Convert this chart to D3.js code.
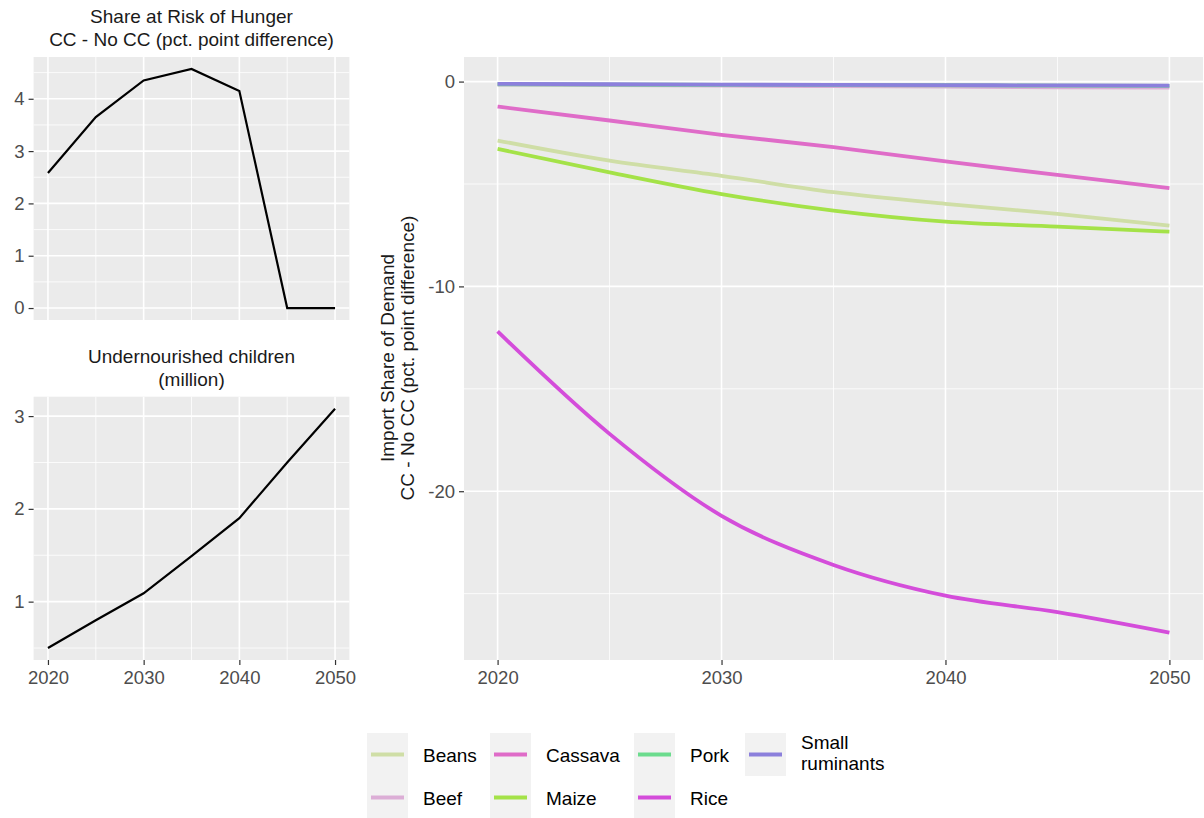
<!DOCTYPE html>
<html>
<head>
<meta charset="utf-8">
<script src="https://cdn.jsdelivr.net/npm/d3@7"></script>
<style>
  body { margin: 0; background: #fff; }
  text { font-family: "Liberation Sans", Arial, sans-serif; }
</style>
</head>
<body>
<script>
// data
var years = [2020, 2025, 2030, 2035, 2040, 2045, 2050];
var hungerShare = [2.58, 3.65, 4.35, 4.57, 4.15, 0, 0];
var childrenMillion = [0.5, 0.8, 1.09, 1.49, 1.9, 2.5, 3.08];

var crops = ["Beans", "Beef", "Cassava", "Maize", "Pork", "Rice", "Small ruminants"];
var cropColors = ["#cfdea6", "#dcaed6", "#df6cc8", "#a4e248", "#6cdc8e", "#d44dda", "#8c80dc"];
var beans = [-2.88, -3.86, -4.6, -5.4, -5.97, -6.46, -7.03];
var beef = [-0.15, -0.17, -0.2, -0.22, -0.25, -0.28, -0.3];
var cassava = [-1.22, -1.9, -2.6, -3.2, -3.9, -4.56, -5.2];
var maize = [-3.29, -4.43, -5.49, -6.3, -6.84, -7.08, -7.33];
var pork = [-0.13, -0.15, -0.16, -0.17, -0.18, -0.2, -0.21];
var rice = [-12.2, -17.2, -21.2, -23.6, -25.1, -25.9, -26.9];
var smallRuminants = [-0.11, -0.13, -0.15, -0.16, -0.17, -0.19, -0.2];
var cropValues = [beans, beef, cassava, maize, pork, rice, smallRuminants];

var w = 1204, h = 818;
var svg = d3.select("body").append("svg").attr("width", w).attr("height", h);
var tickFont = "18.5px", titleFont = "19px";

function panel(opt) {
  var g = svg.append("g");
  var x = d3.scaleLinear().domain(opt.xdom).range([opt.left, opt.right]);
  var y = d3.scaleLinear().domain(opt.ydom).range([opt.bottom, opt.top]);
  g.append("rect").attr("x", opt.left).attr("y", opt.top)
    .attr("width", opt.right - opt.left).attr("height", opt.bottom - opt.top)
    .attr("fill", "#ebebeb");
  // minor grid
  opt.yminor.forEach(function(v) {
    g.append("line").attr("x1", opt.left).attr("x2", opt.right)
      .attr("y1", y(v)).attr("y2", y(v)).attr("stroke", "#fff").attr("stroke-width", 0.8);
  });
  [2025, 2035, 2045].forEach(function(v) {
    g.append("line").attr("y1", opt.top).attr("y2", opt.bottom)
      .attr("x1", x(v)).attr("x2", x(v)).attr("stroke", "#fff").attr("stroke-width", 0.8);
  });
  // major grid
  opt.yticks.forEach(function(v) {
    g.append("line").attr("x1", opt.left).attr("x2", opt.right)
      .attr("y1", y(v)).attr("y2", y(v)).attr("stroke", "#fff").attr("stroke-width", 1.6);
  });
  [2020, 2030, 2040, 2050].forEach(function(v) {
    g.append("line").attr("y1", opt.top).attr("y2", opt.bottom)
      .attr("x1", x(v)).attr("x2", x(v)).attr("stroke", "#fff").attr("stroke-width", 1.6);
  });

  var yAxis = d3.axisLeft(y).tickValues(opt.yticks).tickSize(5).tickPadding(4)
    .tickFormat(function(d) { return String(d); });
  var ya = g.append("g").attr("transform", "translate(" + opt.left + ",0)").call(yAxis);
  ya.select(".domain").remove();
  ya.selectAll("line").attr("stroke", "#333").attr("stroke-width", 1.2);
  ya.selectAll("text").attr("font-size", tickFont).attr("fill", "#4d4d4d");

  if (opt.showX) {
    var xAxis = d3.axisBottom(x).tickValues([2020, 2030, 2040, 2050]).tickSize(5).tickPadding(6)
      .tickFormat(function(d) { return String(d); });
    var xa = g.append("g").attr("transform", "translate(0," + opt.bottom + ")").call(xAxis);
    xa.select(".domain").remove();
    xa.selectAll("line").attr("stroke", "#333").attr("stroke-width", 1.2);
    xa.selectAll("text").attr("font-size", tickFont).attr("fill", "#4d4d4d");
  }
  return {g: g, x: x, y: y};
}

// top-left: share at risk of hunger
var p1 = panel({left: 33.6, right: 349.4, top: 57, bottom: 320,
  xdom: [2018.5, 2051.5], ydom: [-0.2285, 4.7985],
  yticks: [0, 1, 2, 3, 4], yminor: [0.5, 1.5, 2.5, 3.5, 4.5], showX: false});
p1.g.append("path").datum(hungerShare)
  .attr("fill", "none").attr("stroke", "#000").attr("stroke-width", 2.2)
  .attr("d", d3.line().x(function(d, i) { return p1.x(years[i]); }).y(function(d) { return p1.y(d); }));
svg.append("text").attr("x", 191.5).attr("y", 23).attr("text-anchor", "middle")
  .attr("font-size", titleFont).attr("fill", "#1a1a1a").text("Share at Risk of Hunger");
svg.append("text").attr("x", 191.5).attr("y", 46).attr("text-anchor", "middle")
  .attr("font-size", titleFont).attr("fill", "#1a1a1a").text("CC - No CC (pct. point difference)");

// bottom-left: undernourished children
var p2 = panel({left: 33.6, right: 349.4, top: 396.7, bottom: 660,
  xdom: [2018.5, 2051.5], ydom: [0.371, 3.209],
  yticks: [1, 2, 3], yminor: [0.5, 1.5, 2.5], showX: true});
p2.g.append("path").datum(childrenMillion)
  .attr("fill", "none").attr("stroke", "#000").attr("stroke-width", 2.2)
  .attr("d", d3.line().x(function(d, i) { return p2.x(years[i]); }).y(function(d) { return p2.y(d); }));
svg.append("text").attr("x", 191.5).attr("y", 363).attr("text-anchor", "middle")
  .attr("font-size", titleFont).attr("fill", "#1a1a1a").text("Undernourished children");
svg.append("text").attr("x", 191.5).attr("y", 386).attr("text-anchor", "middle")
  .attr("font-size", titleFont).attr("fill", "#1a1a1a").text("(million)");

// right: import share of demand
var p3 = panel({left: 464, right: 1203, top: 57, bottom: 660,
  xdom: [2018.5, 2051.5], ydom: [-28.24, 1.2],
  yticks: [-20, -10, 0], yminor: [-25, -15, -5], showX: true});
var cropLine = d3.line().curve(d3.curveMonotoneX)
  .x(function(d, i) { return p3.x(years[i]); }).y(function(d) { return p3.y(d); });
p3.g.selectAll("path.crop").data(cropValues).enter().append("path")
  .attr("class", "crop")
  .attr("fill", "none")
  .attr("stroke", function(d, i) { return cropColors[i]; })
  .attr("stroke-width", 3.8)
  .attr("d", cropLine);

svg.append("text").attr("transform", "translate(394,358) rotate(-90)")
  .attr("text-anchor", "middle").attr("font-size", titleFont).attr("fill", "#1a1a1a")
  .text("Import Share of Demand");
svg.append("text").attr("transform", "translate(414,358) rotate(-90)")
  .attr("text-anchor", "middle").attr("font-size", titleFont).attr("fill", "#1a1a1a")
  .text("CC - No CC (pct. point difference)");

// legend, filled column by column (2 rows)
var keyW = 41, keyH = 43, colX = [367, 490, 634, 745], rowY = [733, 776];
var legend = svg.append("g");
crops.forEach(function(name, i) {
  var col = Math.floor(i / 2), row = i % 2;
  var kx = colX[col], ky = rowY[row];
  legend.append("rect").attr("x", kx).attr("y", ky).attr("width", keyW).attr("height", keyH)
    .attr("fill", "#f2f2f2");
  legend.append("line").attr("x1", kx + 4).attr("x2", kx + keyW - 4)
    .attr("y1", ky + keyH / 2).attr("y2", ky + keyH / 2)
    .attr("stroke", cropColors[i]).attr("stroke-width", 3.8);
  var t = legend.append("text").attr("x", kx + keyW + 15).attr("font-size", titleFont).attr("fill", "#000");
  if (name === "Small ruminants") {
    t.attr("y", ky + 16).append("tspan").attr("x", kx + keyW + 15).text("Small");
    t.append("tspan").attr("x", kx + keyW + 15).attr("dy", 21).text("ruminants");
  } else {
    t.attr("y", ky + keyH / 2 + 7).text(name);
  }
});
</script>
</body>
</html>
